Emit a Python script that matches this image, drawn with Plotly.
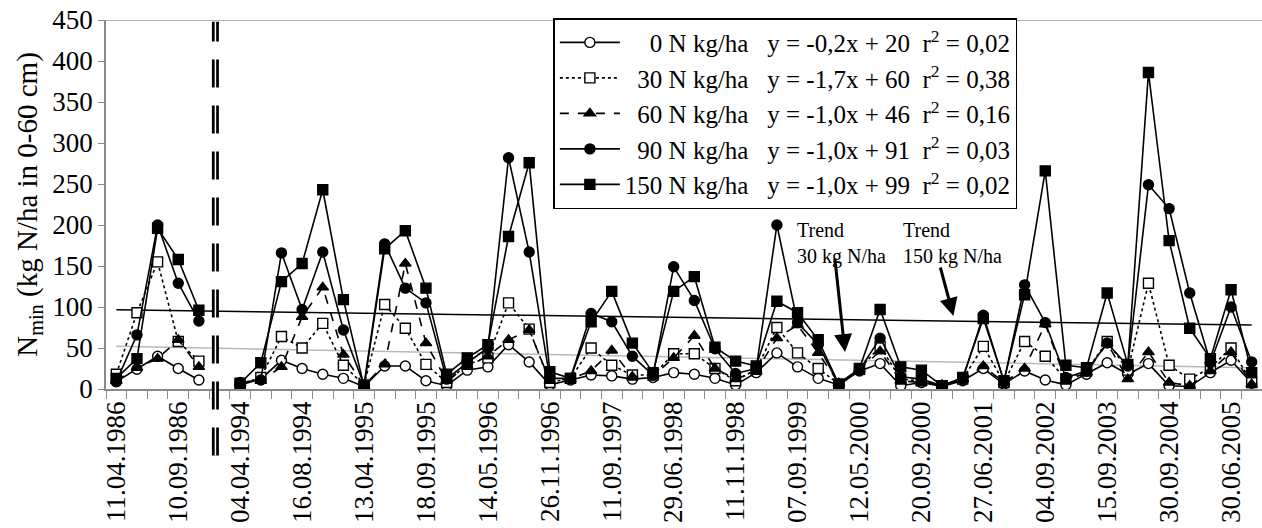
import plotly.graph_objects as go

FONT = "Times New Roman, Liberation Serif, Tinos, serif"

# category index 0..55 (index 5 is the break between 1986 and 1994)
n_cat = 56
tick_pos = [0, 3, 6, 9, 12, 15, 18, 21, 24, 27, 30, 33, 36, 39, 42, 45, 48, 51, 54]
tick_labels = ["11.04.1986", "10.09.1986", "04.04.1994", "16.08.1994", "13.04.1995",
               "18.09.1995", "14.05.1996", "26.11.1996", "11.09.1997", "29.06.1998",
               "11.11.1998", "07.09.1999", "12.05.2000", "20.09.2000", "27.06.2001",
               "04.09.2002", "15.09.2003", "30.09.2004", "30.06.2005"]

n0 = [9, 24, 40, 25, 11, None, 5, 12, 35, 25, 18, 13, 3, 28, 28, 10, 4, 23, 27, 54,
      33, 5, 11, 17, 16, 12, 14, 20, 18, 13, 5, 20, 44, 27, 13, 5, 22, 31, 4, 8,
      3, 10, 25, 6, 22, 11, 5, 18, 32, 18, 31, 4, 3, 20, 35, 7]
n30 = [18, 93, 155, 58, 34, None, 6, 14, 64, 50, 80, 29, 5, 103, 74, 30, 8, 30, 38, 105,
       73, 8, 13, 50, 29, 17, 17, 43, 43, 25, 10, 24, 75, 44, 25, 6, 24, 52, 12, 10,
       4, 12, 52, 8, 58, 40, 12, 22, 58, 23, 129, 29, 12, 26, 50, 8]
n60 = [10, 26, 37, 60, 27, None, 7, 10, 27, 88, 124, 42, 4, 30, 153, 56, 10, 28, 40, 60,
       72, 10, 12, 22, 47, 15, 16, 38, 65, 25, 12, 22, 62, 78, 44, 7, 24, 46, 10, 8,
       5, 12, 28, 8, 25, 79, 10, 20, 56, 12, 45, 8, 4, 22, 45, 6]
n90 = [9, 66, 200, 129, 83, None, 8, 11, 166, 97, 167, 72, 5, 177, 123, 105, 12, 32, 50, 282,
       167, 13, 13, 92, 82, 40, 17, 149, 108, 49, 19, 25, 200, 81, 54, 5, 23, 62, 15, 12,
       4, 12, 90, 9, 127, 81, 14, 22, 56, 28, 249, 220, 117, 32, 100, 33]
n150 = [13, 37, 196, 158, 96, None, 7, 32, 131, 153, 243, 109, 3, 171, 193, 123, 18, 38, 54, 186,
        276, 21, 13, 82, 119, 56, 20, 119, 137, 51, 34, 28, 107, 93, 60, 6, 25, 97, 27, 23,
        4, 14, 86, 10, 115, 266, 29, 26, 117, 30, 386, 181, 74, 37, 121, 20]

# trend lines (start / end values)
trend_150 = [96.5, 78]
trend_30 = [52, 26]

F = "\u2007"  # figure space (digit width)
S = "\u00a0"
names = [
    F + F + "0 N kg/ha" + S * 3 + "y = -0,2x + 20" + S * 2 + "r<sup>2</sup> = 0,02",
    F + "30 N kg/ha" + S * 3 + "y = -1,7x + 60" + S * 2 + "r<sup>2</sup> = 0,38",
    F + "60 N kg/ha" + S * 3 + "y = -1,0x + 46" + S * 2 + "r<sup>2</sup> = 0,16",
    F + "90 N kg/ha" + S * 3 + "y = -1,0x + 91" + S * 2 + "r<sup>2</sup> = 0,03",
    "150 N kg/ha" + S * 3 + "y = -1,0x + 99" + S * 2 + "r<sup>2</sup> = 0,02",
]

x = list(range(n_cat))
fig = go.Figure()

# trend lines
fig.add_trace(go.Scatter(x=[0, n_cat - 1], y=trend_30, mode="lines",
                         line=dict(color="#b8b8b8", width=1.5), showlegend=False, hoverinfo="skip"))
fig.add_trace(go.Scatter(x=[0, n_cat - 1], y=trend_150, mode="lines",
                         line=dict(color="black", width=1.5), showlegend=False, hoverinfo="skip"))

styles = [
    dict(dash="solid", symbol="circle", fill="white"),
    dict(dash="dot", symbol="square", fill="white"),
    dict(dash="dash", symbol="triangle-up", fill="black"),
    dict(dash="solid", symbol="circle", fill="black"),
    dict(dash="solid", symbol="square", fill="black"),
]
for vals, nm, st in zip([n0, n30, n60, n90, n150], names, styles):
    fig.add_trace(go.Scatter(
        x=x, y=vals, name=nm, mode="lines+markers", connectgaps=False,
        line=dict(color="black", width=1.6, dash=st["dash"]),
        marker=dict(symbol=st["symbol"], size=10, color=st["fill"],
                    line=dict(color="black", width=1.4)),
    ))

# vertical break line
fig.add_shape(type="line", xref="x", yref="paper", x0=4.8, x1=4.8, y0=-0.18, y1=0.995,
              line=dict(color="black", width=7, dash="28px,18px"))
fig.add_shape(type="line", xref="x", yref="paper", x0=4.8, x1=4.8, y0=-0.18, y1=0.995,
              line=dict(color="white", width=1.5))
# top border
fig.add_shape(type="line", xref="paper", yref="y", x0=0, x1=1, y0=450, y1=450,
              line=dict(color="#9a9a9a", width=1.5))

ann_font = dict(family=FONT, size=20, color="black")
fig.add_annotation(x=32.9, y=210, xref="x", yref="y", text="Trend<br>30 kg N/ha",
                   showarrow=False, xanchor="left", yanchor="top", align="left", font=ann_font)
fig.add_annotation(x=38.0, y=210, xref="x", yref="y", text="Trend<br>150 kg N/ha",
                   showarrow=False, xanchor="left", yanchor="top", align="left", font=ann_font)
fig.add_annotation(x=35.3, y=45, ax=34.8, ay=161, xref="x", yref="y", axref="x", ayref="y",
                   text="", showarrow=True, arrowhead=2, arrowsize=1.2, arrowwidth=3,
                   arrowcolor="black")
fig.add_annotation(x=40.55, y=89, ax=39.9, ay=150, xref="x", yref="y", axref="x", ayref="y",
                   text="", showarrow=True, arrowhead=2, arrowsize=1.2, arrowwidth=3,
                   arrowcolor="black")

fig.update_layout(
    width=1262, height=528,
    margin=dict(l=106, r=0, t=20, b=139),
    paper_bgcolor="white", plot_bgcolor="white",
    font=dict(family=FONT, color="black"),
    showlegend=True,
    legend=dict(x=0.387, y=1.005, xanchor="left", yanchor="top",
                bgcolor="white", bordercolor="black", borderwidth=1.5,
                font=dict(family=FONT, size=25, color="black"),
                tracegroupgap=0, itemwidth=60),
    xaxis=dict(range=[-0.5, n_cat - 0.5], tickmode="array", tickvals=tick_pos,
               ticktext=tick_labels, tickangle=-90, ticks="",
               tickfont=dict(family=FONT, size=27, color="black"),
               showline=True, linecolor="#8a8a8a", linewidth=1.5,
               showgrid=False, zeroline=False,
               minor=dict(tickmode="linear", tick0=-0.5, dtick=1, ticks="outside",
                          ticklen=8, tickcolor="#8a8a8a", tickwidth=1, showgrid=False)),
    yaxis=dict(range=[0, 450], dtick=50, ticks="outside", ticklen=6, tickcolor="#8a8a8a",
               tickfont=dict(family=FONT, size=27, color="black"),
               showline=True, linecolor="#8a8a8a", linewidth=1.5,
               showgrid=False, zeroline=False,
               title=dict(text="N<sub>min</sub> (kg N/ha in 0-60 cm)",
                          font=dict(family=FONT, size=29, color="black"), standoff=6)),
)

fig.write_html("out.html")
